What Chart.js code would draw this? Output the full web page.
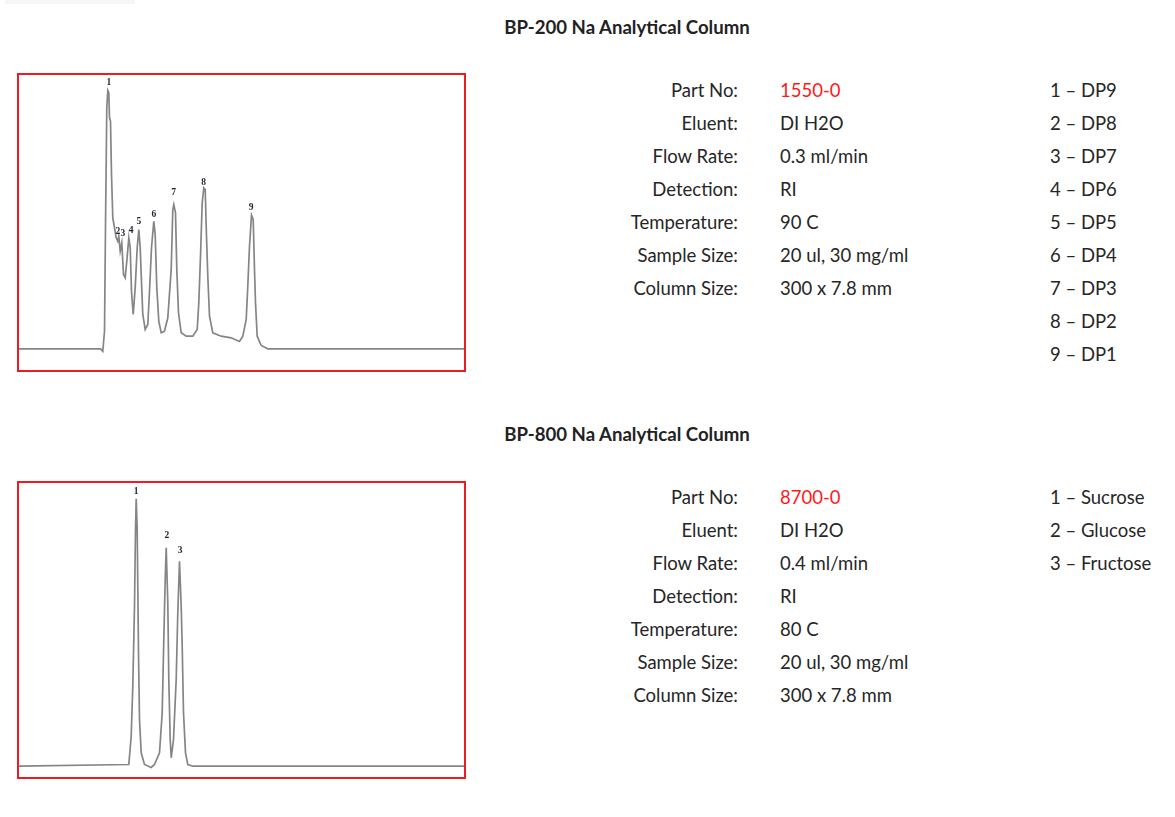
<!DOCTYPE html>
<html>
<head>
<meta charset="utf-8">
<script src="https://cdn.jsdelivr.net/npm/chart.js@4/dist/chart.umd.min.js"></script>
<style>
  html, body { margin:0; padding:0; background:#fff; }
  body { width:1175px; height:817px; position:relative; overflow:hidden;
         font-family: Lato, "Open Sans", sans-serif; color:#262626; }
  .shade { position:absolute; left:5px; top:0; width:130px; height:4px; background:#f6f6f6; }
  .title { position:absolute; left:427px; width:400px; text-align:center; font-weight:bold;
           font-size:18.6px; line-height:24px; color:#222; }
  .box { position:absolute; left:17px; width:445px; border:2.5px solid #ec1c24; }
  .box canvas { display:block; }
  .row { position:absolute; height:33px; line-height:33px; font-size:18.5px; white-space:nowrap; }
  .lab { left:540px; width:198px; text-align:right; }
  .val { left:780px; }
  .leg { left:1050px; }
  .red { color:#ff1a1a; }
</style>
</head>
<body>
<div class="shade"></div>

<div class="title" style="top:15px">BP-200 Na Analytical Column</div>
<div class="box" style="top:73px;height:295px"><canvas id="c1" width="445" height="295"></canvas></div>
<div id="info1"></div>

<div class="title" style="top:422px">BP-800 Na Analytical Column</div>
<div class="box" style="top:481px;height:294px"><canvas id="c2" width="445" height="294"></canvas></div>
<div id="info2"></div>

<script>
// ---- BP-200 Na chromatogram (time in arbitrary units, detector response in arbitrary units) ----
const bp200Time = [0,81.5,83.8,85.5,86.5,87.8,88.8,89.8,90.5,91.5,92.5,93.8,95.5,97.2,98.8,99.8,101.2,102.8,104.5,106.2,107.8,109.8,111.2,112.5,114.2,116.2,118.2,119.8,121.2,122.2,123.8,126.2,128.8,130.5,132.5,134.8,136.2,137.8,139.8,142.2,145.5,148.8,152.2,153.8,154.8,156.5,157.8,159.5,162.2,167.2,173.8,178.2,179.8,181.5,183.2,184.8,186.2,187.5,188.8,190.5,193.8,202.2,212.2,220.5,223.8,227.2,228.8,230.5,232.5,234.2,235.5,236.5,238.2,242.2,248.8,445];
const bp200Signal = [21.2,21.2,18.8,38.8,143.8,262.2,279.5,277.2,252.2,248.8,195.5,152.2,142.2,132.2,128.8,133.8,118.8,127.2,95.5,92.2,108.8,132.2,122.2,78.8,55.5,82.2,122.2,140.5,122.2,95.5,55.5,40.5,45.5,78.8,122.2,148.8,135.5,82.2,48.8,37.2,38.8,52.2,100.5,160.5,165.5,157.2,100.5,57.2,37.2,33.8,33.8,40.5,67.2,113.8,167.2,182.2,180.5,133.8,93.8,53.8,37.2,33.8,32.2,28.5,33.8,50.5,83.8,123.8,154.8,150.5,100.5,67.2,33.8,24.5,21.2,21.2];
const bp200PeakLabels = ["1","2","3","4","5","6","7","8","9"];
const bp200PeakTime   = [89.8,98.8,103.8,112.2,119.8,134.8,154.5,184.5,232.2];
const bp200PeakLabelY = [287.2,138.8,136.2,139.5,148.8,155.5,177.2,187.2,162.2];

// ---- BP-800 Na chromatogram ----
const bp800Time = [0,109.8,112.2,113.8,115.5,116.5,117.2,118.2,119.5,120.5,122.2,125.5,132.2,135.5,140.5,143.2,144.8,146.2,147.2,148.8,149.8,151.2,152.2,154.5,157.2,158.8,160.5,162.2,163.2,164.5,166.5,168.8,173.8,445];
const bp800Signal = [10.8,12.5,40.8,90.8,170.8,247.5,278.2,247.5,124.5,57.5,24.2,12.5,9.5,12.5,24.2,64.2,137.5,197.5,229.2,174.2,97.5,37.5,19.2,37.5,97.5,164.2,215.8,170.8,130.8,64.2,24.2,12.5,10.8,10.8];
const bp800PeakLabels = ["1","2","3"];
const bp800PeakTime   = [117.0,147.8,161.0];
const bp800PeakLabelY = [285.5,241.2,226.2];

// ---- Conditions tables ----
const condLabels = ["Part No:","Eluent:","Flow Rate:","Detection:","Temperature:","Sample Size:","Column Size:"];
const bp200Values = ["1550-0","DI H2O","0.3 ml/min","RI","90 C","20 ul, 30 mg/ml","300 x 7.8 mm"];
const bp800Values = ["8700-0","DI H2O","0.4 ml/min","RI","80 C","20 ul, 30 mg/ml","300 x 7.8 mm"];
const bp200Legend = ["1 – DP9","2 – DP8","3 – DP7","4 – DP6","5 – DP5","6 – DP4","7 – DP3","8 – DP2","9 – DP1"];
const bp800Legend = ["1 – Sucrose","2 – Glucose","3 – Fructose"];

function buildInfo(id, top, values, legend) {
  const host = document.getElementById(id);
  const step = 33;
  condLabels.forEach((t, i) => {
    const d = document.createElement('div'); d.className = 'row lab';
    d.style.top = (top + i*step) + 'px'; d.textContent = t; host.appendChild(d);
    const v = document.createElement('div'); v.className = 'row val' + (i === 0 ? ' red' : '');
    v.style.top = (top + i*step) + 'px'; v.textContent = values[i]; host.appendChild(v);
  });
  legend.forEach((t, i) => {
    const d = document.createElement('div'); d.className = 'row leg';
    d.style.top = (top + i*step) + 'px'; d.textContent = t; host.appendChild(d);
  });
}
buildInfo('info1', 73.5, bp200Values, bp200Legend);
buildInfo('info2', 480.5, bp800Values, bp800Legend);

const peakLabelPlugin = {
  id: 'peakLabels',
  afterDatasetsDraw(chart, args, opts) {
    const ctx = chart.ctx, xs = chart.scales.x, ys = chart.scales.y;
    ctx.save();
    ctx.font = 'bold 9.5px "Liberation Serif", serif';
    ctx.fillStyle = '#1e2233';
    ctx.textAlign = 'center';
    ctx.textBaseline = 'middle';
    opts.labels.forEach((t, i) => {
      ctx.fillText(t, xs.getPixelForValue(opts.times[i]), ys.getPixelForValue(opts.ys[i]));
    });
    ctx.restore();
  }
};

function makeChart(id, times, signal, labels, ltimes, lys, ymax) {
  new Chart(document.getElementById(id), {
    type: 'line',
    data: { datasets: [{
      data: times.map((t, i) => ({ x: t, y: signal[i] })),
      borderColor: '#858585', borderWidth: 1.7, pointRadius: 0, tension: 0, fill: false
    }]},
    options: {
      responsive: false, animation: false,
      layout: { padding: 0 },
      scales: {
        x: { type: 'linear', min: 0, max: 445, display: false },
        y: { min: 0, max: ymax, display: false }
      },
      plugins: {
        legend: { display: false }, tooltip: { enabled: false },
        peakLabels: { labels: labels, times: ltimes, ys: lys }
      }
    },
    plugins: [peakLabelPlugin]
  });
}
makeChart('c1', bp200Time, bp200Signal, bp200PeakLabels, bp200PeakTime, bp200PeakLabelY, 295);
makeChart('c2', bp800Time, bp800Signal, bp800PeakLabels, bp800PeakTime, bp800PeakLabelY, 294);
</script>
</body>
</html>
